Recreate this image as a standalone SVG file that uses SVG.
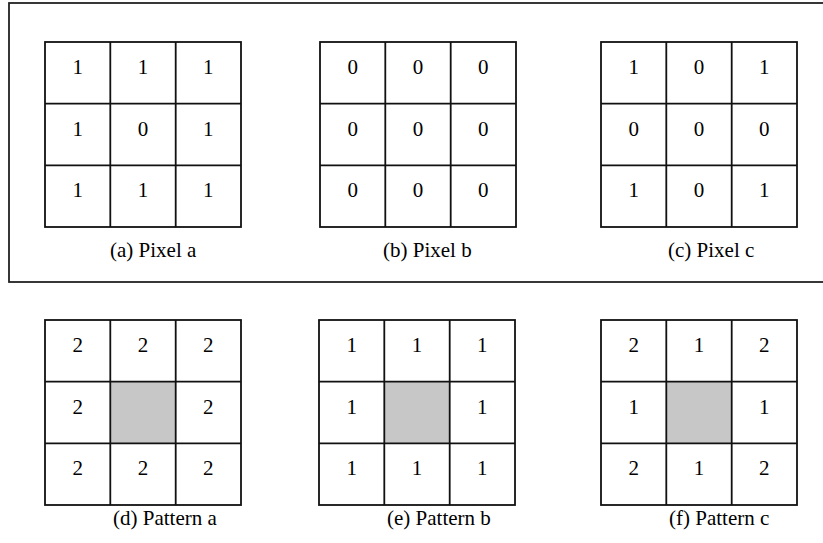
<svg xmlns="http://www.w3.org/2000/svg" width="823" height="543" viewBox="0 0 823 543">
<style>
.g{fill:#fff;stroke:#111;stroke-width:1.8}
.l{stroke:#111;stroke-width:1.8;fill:none}
.sh{fill:#c8c7c8;stroke:none}
.d{font-family:"Liberation Serif","Times New Roman",serif;font-size:21px;fill:#000;text-anchor:middle}
.cap{font-family:"Liberation Serif","Times New Roman",serif;font-size:21px;fill:#000}
</style>
<rect width="823" height="543" fill="#fff"/>
<rect id="frame" x="9" y="3" width="830" height="279" fill="none" stroke="#222" stroke-width="1.8"/>
<defs>
<g id="grid">
<rect class="g" x="0" y="0" width="196" height="185"/>
<path class="l" d="M65.3 0V185M130.7 0V185M0 61.7H196M0 123.3H196"/>
</g>
<g id="gridc">
<rect class="g" x="0" y="0" width="196" height="185"/>
<rect class="sh" x="65.3" y="61.7" width="65.4" height="61.6"/>
<path class="l" d="M65.3 0V185M130.7 0V185M0 61.7H196M0 123.3H196"/>
</g>
</defs>
<g id="pixel-a" transform="translate(45,42)">
<use href="#grid"/>
<text class="d" x="32.7" y="32">1</text><text class="d" x="98" y="32">1</text><text class="d" x="163.3" y="32">1</text>
<text class="d" x="32.7" y="93.7">1</text><text class="d" x="98" y="93.7">0</text><text class="d" x="163.3" y="93.7">1</text>
<text class="d" x="32.7" y="155.3">1</text><text class="d" x="98" y="155.3">1</text><text class="d" x="163.3" y="155.3">1</text>
<text class="cap" x="65" y="215">(a) Pixel a</text>
</g>
<g id="pixel-b" transform="translate(320,42)">
<use href="#grid"/>
<text class="d" x="32.7" y="32">0</text><text class="d" x="98" y="32">0</text><text class="d" x="163.3" y="32">0</text>
<text class="d" x="32.7" y="93.7">0</text><text class="d" x="98" y="93.7">0</text><text class="d" x="163.3" y="93.7">0</text>
<text class="d" x="32.7" y="155.3">0</text><text class="d" x="98" y="155.3">0</text><text class="d" x="163.3" y="155.3">0</text>
<text class="cap" x="63" y="215">(b) Pixel b</text>
</g>
<g id="pixel-c" transform="translate(601,42)">
<use href="#grid"/>
<text class="d" x="32.7" y="32">1</text><text class="d" x="98" y="32">0</text><text class="d" x="163.3" y="32">1</text>
<text class="d" x="32.7" y="93.7">0</text><text class="d" x="98" y="93.7">0</text><text class="d" x="163.3" y="93.7">0</text>
<text class="d" x="32.7" y="155.3">1</text><text class="d" x="98" y="155.3">0</text><text class="d" x="163.3" y="155.3">1</text>
<text class="cap" x="67" y="215">(c) Pixel c</text>
</g>
<g id="pattern-a" transform="translate(45,320)">
<use href="#gridc"/>
<text class="d" x="32.7" y="32">2</text><text class="d" x="98" y="32">2</text><text class="d" x="163.3" y="32">2</text>
<text class="d" x="32.7" y="93.7">2</text><text class="d" x="163.3" y="93.7">2</text>
<text class="d" x="32.7" y="155.3">2</text><text class="d" x="98" y="155.3">2</text><text class="d" x="163.3" y="155.3">2</text>
<text class="cap" x="68" y="205">(d) Pattern a</text>
</g>
<g id="pattern-b" transform="translate(319,320)">
<use href="#gridc"/>
<text class="d" x="32.7" y="32">1</text><text class="d" x="98" y="32">1</text><text class="d" x="163.3" y="32">1</text>
<text class="d" x="32.7" y="93.7">1</text><text class="d" x="163.3" y="93.7">1</text>
<text class="d" x="32.7" y="155.3">1</text><text class="d" x="98" y="155.3">1</text><text class="d" x="163.3" y="155.3">1</text>
<text class="cap" x="68" y="205">(e) Pattern b</text>
</g>
<g id="pattern-c" transform="translate(601,320)">
<use href="#gridc"/>
<text class="d" x="32.7" y="32">2</text><text class="d" x="98" y="32">1</text><text class="d" x="163.3" y="32">2</text>
<text class="d" x="32.7" y="93.7">1</text><text class="d" x="163.3" y="93.7">1</text>
<text class="d" x="32.7" y="155.3">2</text><text class="d" x="98" y="155.3">1</text><text class="d" x="163.3" y="155.3">2</text>
<text class="cap" x="68" y="205">(f) Pattern c</text>
</g>
<g id="connectors"></g>
</svg>
